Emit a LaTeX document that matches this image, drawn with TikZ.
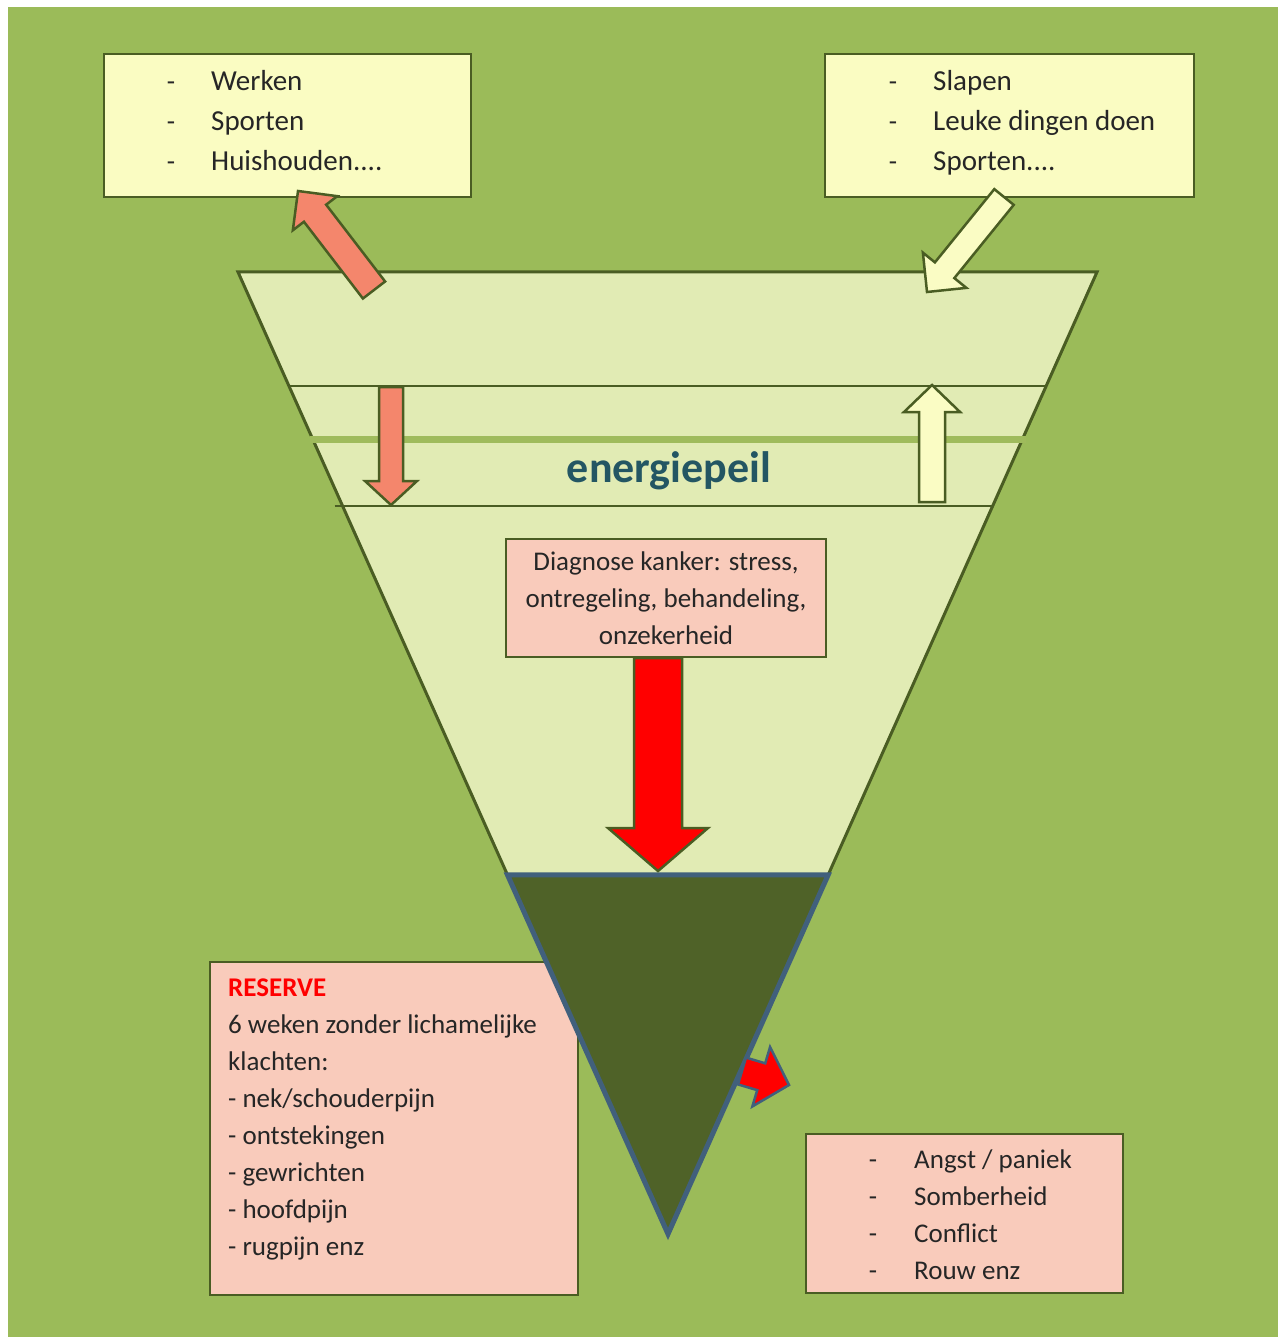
\documentclass[tikz,border=0pt]{standalone}
\usepackage{fontspec}
\setmainfont{Carlito}
\usetikzlibrary{calc}

\definecolor{bggreen}{HTML}{9BBB59}
\definecolor{funnelfill}{HTML}{E1EBB4}
\definecolor{bandgreen}{HTML}{9FBB5C}
\definecolor{olive}{HTML}{4A5D23}
\definecolor{reservefill}{HTML}{4F6228}
\definecolor{slate}{HTML}{41607C}
\definecolor{boxyellow}{HTML}{FAFCC2}
\definecolor{boxpink}{HTML}{F9CBBB}
\definecolor{salmon}{HTML}{F4866C}
\definecolor{cream}{HTML}{FAFCC4}
\definecolor{txtgray}{HTML}{262626}
\definecolor{teal}{HTML}{235663}

\newcommand{\moredots}{....}

% fat arrow: [style]{tail}{tip}{half shaft}{half head}{head length}
\newcommand{\blockarrow}[6][]{%
  \coordinate (ab) at ($(#3)!#6!(#2)$);
  \draw[#1] ($(#2)!#4!90:(#3)$) -- ($(ab)!#4!90:(#3)$) -- ($(ab)!#5!90:(#3)$)
    -- (#3) -- ($(ab)!#5!-90:(#3)$) -- ($(ab)!#4!-90:(#3)$) -- ($(#2)!#4!-90:(#3)$) -- cycle;
}

\begin{document}
\begin{tikzpicture}[x=1pt, y=-1pt,
    listbox/.style={draw=olive, line width=2pt, anchor=north west, inner sep=0pt},
    item/.style={anchor=base west, inner sep=0pt, text=txtgray, font=\fontsize{29}{35}\selectfont},
    smallitem/.style={item, font=\fontsize{27}{33}\selectfont},
    dashmark/.style={anchor=base, inner sep=0pt, text=txtgray, font=\fontsize{27}{33}\selectfont},
    salmonarrow/.style={fill=salmon, draw=olive, line width=2.5pt, line join=miter},
    creamarrow/.style={fill=cream, draw=olive, line width=2.5pt, line join=miter},
    redarrow/.style={fill=red, draw=olive, line width=2.5pt, line join=miter}]

    \useasboundingbox (0,0) rectangle (1278,1337);
    \fill[white] (0,0) rectangle (1278,1337);
    \fill[bggreen] (8,7) rectangle (1278,1337);

    % Lists on top
    \node[listbox, fill=boxyellow, minimum width=367pt, minimum height=143pt] (work) at (103,53) {};
    \node[listbox, fill=boxyellow, minimum width=369pt, minimum height=143pt] (rest) at (824,53) {};
    \foreach \txt [count=\i] in {Werken, Sporten, Huishouden\moredots} {
        \node[dashmark] (work-d\i) at (171, 51+40*\i) {-};
        \node[item] (work-\i) at (211, 51+40*\i) {\txt};
    }
    \foreach \txt [count=\i] in {Slapen, Leuke dingen doen, Sporten\moredots} {
        \node[dashmark] (rest-d\i) at (893, 51+40*\i) {-};
        \node[item] (rest-\i) at (933, 51+40*\i) {\txt};
    }

    % Reserve box (partly under the triangle)
    \node[listbox, fill=boxpink, minimum width=368pt, minimum height=333pt] (reserve) at (209,961) {};

    % Funnel
    \coordinate (tl) at (238,272);
    \coordinate (tr) at (1097,272);
    \coordinate (apex) at (668,1234);
    \draw[olive, line width=3pt, fill=funnelfill, line join=miter] (tl) -- (tr) -- (apex) -- cycle;
    \draw[olive, line width=2pt] ($(tl)!0.1185!(apex)$) -- ($(tr)!0.1185!(apex)$);
    \draw[bandgreen, line width=7pt] ($(tl)!0.1736!(apex)+(-3,0)$) -- ($(tr)!0.1736!(apex)+(3,0)$);
    \draw[olive, line width=1.2pt] ($(tl)!0.2432!(apex)+(-8,0)$) -- ($(tr)!0.2432!(apex)$);
    \node[anchor=base, inner sep=0pt, text=teal, font=\fontsize{44}{50}\selectfont\bfseries] (level) at (669,482) {energiepeil};

    % Reserve triangle
    \coordinate (rl) at ($(tl)!0.6268!(apex)$);
    \coordinate (rr) at ($(tr)!0.6268!(apex)$);
    \draw[slate, line width=5pt, fill=reservefill, line join=miter] (rl) -- (rr) -- (apex) -- cycle;

    % Diagnosis box
    \node[listbox, fill=boxpink, minimum width=320pt, minimum height=118pt, align=center,
        text=txtgray, font=\fontsize{27}{37}\selectfont] (diag) at (505,538)
        {Diagnose kanker: stress,\\ ontregeling, behandeling,\\ onzekerheid};

    % Arrows
    \coordinate (drain-t) at (374,290);
    \coordinate (drain-h) at (298,191);
    \blockarrow[salmonarrow]{drain-t}{drain-h}{14pt}{28pt}{28pt}
    \coordinate (charge-t) at (1004,197);
    \coordinate (charge-h) at (927,292);
    \blockarrow[creamarrow]{charge-t}{charge-h}{12.5pt}{28pt}{28pt}
    \coordinate (down-t) at (391,387);
    \coordinate (down-h) at (391,505);
    \blockarrow[salmonarrow]{down-t}{down-h}{12pt}{26pt}{24pt}
    \coordinate (up-t) at (932,502);
    \coordinate (up-h) at (932,385);
    \blockarrow[creamarrow]{up-t}{up-h}{13pt}{28pt}{27pt}
    \coordinate (hit-h) at (658,871);
    \coordinate (hit-t) at (diag.south -| hit-h);
    \blockarrow[redarrow]{hit-t}{hit-h}{24pt}{50pt}{43pt}
    \coordinate (leak-t) at (742,1071);
    \coordinate (leak-h) at (789,1085);
    \blockarrow[redarrow, draw=slate]{leak-t}{leak-h}{14pt}{31pt}{29pt}

    % Reserve text
    \node[smallitem, text=red, font=\fontsize{27}{33}\selectfont\bfseries] (res-0) at (228,996) {RESERVE};
    \foreach \txt [count=\i] in {6 weken zonder lichamelijke, klachten:, - nek/schouderpijn,
        - ontstekingen, - gewrichten, - hoofdpijn, - rugpijn enz} {
        \node[smallitem] (res-\i) at (228, 996+37*\i) {\txt};
    }

    % Bottom right list
    \node[listbox, fill=boxpink, minimum width=317pt, minimum height=159pt] (moods) at (805,1133) {};
    \foreach \txt [count=\i] in {Angst / paniek, Somberheid, Conflict, Rouw enz} {
        \node[dashmark] (moods-d\i) at (873, 1131+37*\i) {-};
        \node[smallitem] (moods-\i) at (914, 1131+37*\i) {\txt};
    }

\end{tikzpicture}
\end{document}
